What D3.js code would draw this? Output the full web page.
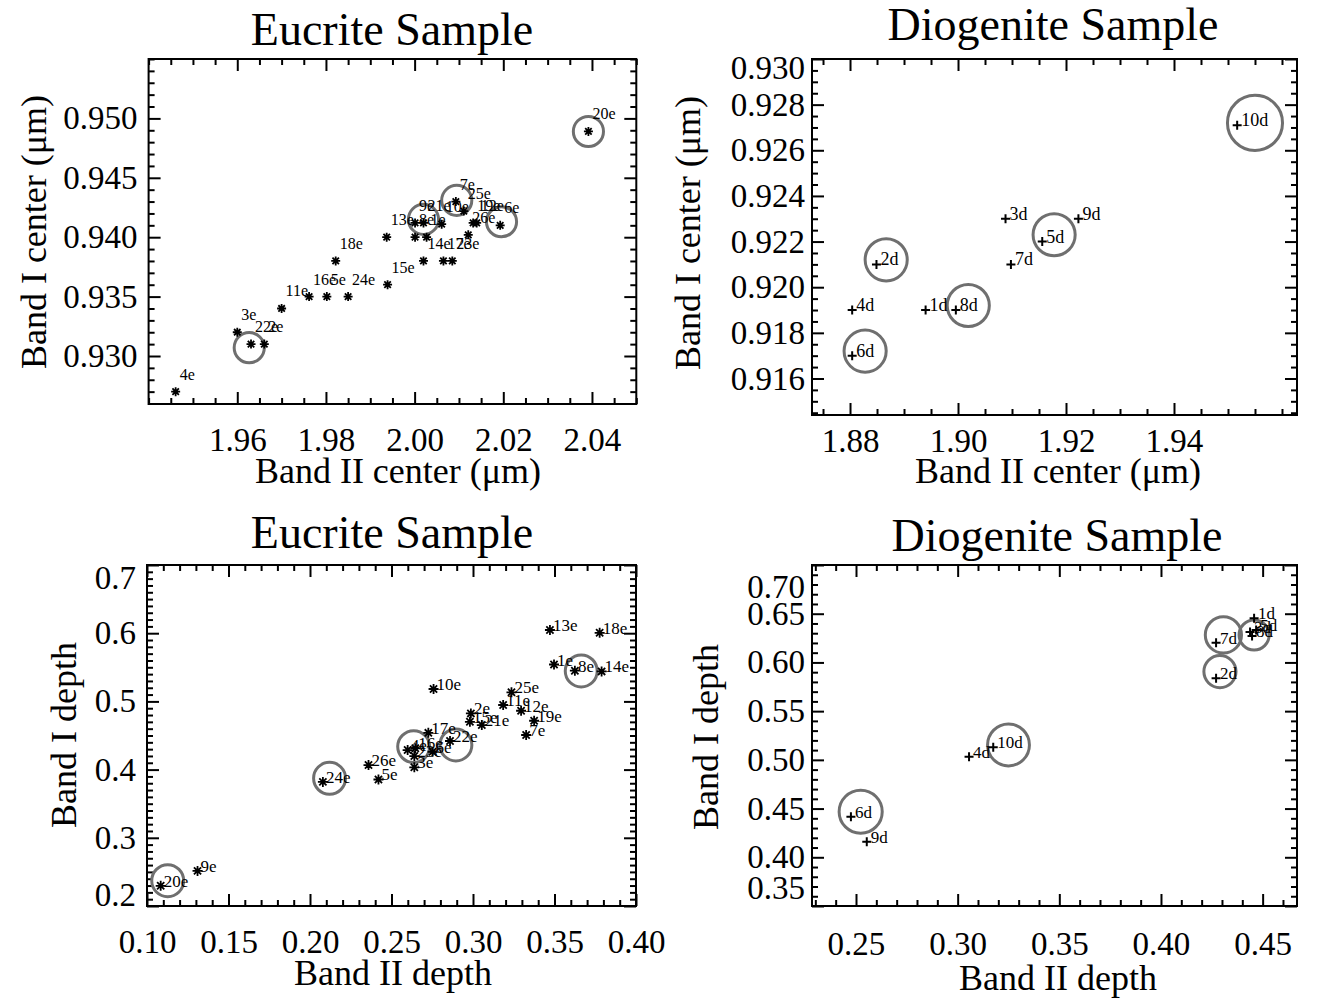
<!DOCTYPE html>
<html><head><meta charset="utf-8">
<script src="https://cdn.jsdelivr.net/npm/d3@7"></script>
<style>
body{margin:0;background:#fff}
svg{display:block}
text{font-family:"Liberation Serif","Times New Roman",serif;fill:#000}
</style>
</head><body><svg id="chart" width="1343" height="1003"></svg>
<script>
// ---------------- DATA ----------------
// Eucrite band centers (top-left)
const eucCenterLabels = ["4e","3e","22e","2e","11e","16e","5e","24e","18e","15e","13e","8e","1e","9e","21e","10e","7e","25e","19e","12e","6e","26e","14e","17e","23e","20e"];
const eucBand2Center = [1.9461,1.9600,1.9631,1.9661,1.9700,1.9762,1.9802,1.9850,1.9822,1.9939,1.9937,2.0001,2.0027,2.0001,2.0020,2.0061,2.0093,2.0111,2.0132,2.0140,2.0193,2.0121,2.0020,2.0065,2.0085,2.0392];
const eucBand1Center = [0.9270,0.9320,0.9310,0.9310,0.9340,0.9350,0.9350,0.9350,0.9380,0.9360,0.9400,0.9400,0.9400,0.9412,0.9412,0.9411,0.9430,0.9422,0.9412,0.9412,0.9410,0.9402,0.9380,0.9380,0.9380,0.9489];
const eucCenterCircleB2 = [1.9627,2.0095,2.0020,2.0196,2.0392];
const eucCenterCircleB1 = [0.9307,0.9431,0.9415,0.9413,0.9489];
const eucCenterCircleR  = [0.0034,0.0034,0.0034,0.0034,0.0034];

// Diogenite band centers (top-right)
const dioCenterLabels = ["1d","2d","3d","4d","5d","6d","7d","8d","9d","10d"];
const dioBand2Center = [1.8940,1.8849,1.9088,1.8804,1.9156,1.8804,1.9098,1.8996,1.9223,1.9517];
const dioBand1Center = [0.919,0.921,0.923,0.919,0.922,0.917,0.921,0.919,0.923,0.9271];
const dioCenterCircleB2 = [1.8867,1.9178,1.8828,1.9019,1.9550];
const dioCenterCircleB1 = [0.9212,0.9223,0.9172,0.9192,0.9272];
const dioCenterCircleR  = [0.0039,0.0039,0.0039,0.0039,0.0051];

// Eucrite band depths (bottom-left)
const eucDepthLabels = ["13e","18e","1e","8e","14e","10e","25e","11e","12e","19e","7e","2e","15e","21e","17e","22e","4e","16e","23e","6e","3e","26e","5e","24e","20e","9e"];
const eucBand2Depth = [0.3472,0.3777,0.3497,0.3625,0.3789,0.2758,0.3236,0.3185,0.3295,0.3375,0.3326,0.2987,0.2981,0.3054,0.2726,0.2859,0.2599,0.2646,0.2640,0.2752,0.2640,0.2359,0.2420,0.2079,0.1084,0.1310];
const eucBand1Depth = [0.6047,0.6006,0.5541,0.5450,0.5440,0.5182,0.5133,0.4947,0.4863,0.4716,0.4507,0.4824,0.4701,0.4653,0.4539,0.4419,0.4287,0.4312,0.4199,0.4262,0.4034,0.4067,0.3855,0.3820,0.2296,0.2515];
const eucDepthCircleB2 = [0.3664,0.2895,0.2636,0.2120,0.1127];
const eucDepthCircleB1 = [0.5447,0.4361,0.4337,0.3872,0.2371];
const eucDepthCircleR  = [0.0098,0.0098,0.0098,0.0098,0.0098];

// Diogenite band depths (bottom-right)
const dioDepthLabels = ["1d","3d","5d","8d","7d","2d","4d","10d","6d","9d"];
const dioBand2Depth = [0.4458,0.4438,0.4468,0.4448,0.4271,0.4271,0.3056,0.3175,0.2475,0.2553];
const dioBand1Depth = [0.6454,0.6313,0.6334,0.6272,0.6203,0.5838,0.5033,0.5129,0.4417,0.4160];
const dioDepthCircleB2 = [0.4307,0.4458,0.4290,0.3250,0.2523];
const dioDepthCircleB1 = [0.6282,0.6282,0.5906,0.5153,0.4468];
const dioDepthCircleR  = [0.0089,0.0074,0.0079,0.0103,0.0106];

// Tick labels
const p1XTicks = ["1.96","1.98","2.00","2.02","2.04"];
const p1YTicks = ["0.930","0.935","0.940","0.945","0.950"];
const p2XTicks = ["1.88","1.90","1.92","1.94"];
const p2YTicks = ["0.916","0.918","0.920","0.922","0.924","0.926","0.928","0.930"];
const p3XTicks = ["0.10","0.15","0.20","0.25","0.30","0.35","0.40"];
const p3YTicks = ["0.2","0.3","0.4","0.5","0.6","0.7"];
const p4XTicks = ["0.25","0.30","0.35","0.40","0.45"];
const p4YTicks = ["0.35","0.40","0.45","0.50","0.55","0.60","0.65","0.70"];

// ---------------- DRAWING ----------------
const svg = d3.select('#chart');
const FONT = '"Liberation Serif","Times New Roman",serif';

const asterisk = r => { const d = r*0.72; return `M${-r},0H${r}M0,${-r}V${r}M${-d},${-d}L${d},${d}M${-d},${d}L${d},${-d}`; };
const plus = r => `M${-r},0H${r}M0,${-r}V${r}`;

function drawPanel(c) {
  const b = c.box;
  const x = d3.scaleLinear().domain(c.xDomain).range([b.x0, b.x1]);
  const y = d3.scaleLinear().domain(c.yDomain).range([b.y1, b.y0]);
  const g = svg.append('g');
  const xMaj = c.xTicks.map(Number), yMaj = c.yTicks.map(Number);
  const minor = (dom, step, maj) => d3.range(Math.ceil(dom[0]/step - 1e-6), Math.floor(dom[1]/step + 1e-6) + 1)
      .map(k => +(k*step).toFixed(6)).filter(v => !maj.some(m => Math.abs(m - v) < step/10));
  const xMin = minor(c.xDomain, c.xMinor, xMaj), yMin = minor(c.yDomain, c.yMinor, yMaj);
  const inX = v => v >= c.xDomain[0] - 1e-9 && v <= c.xDomain[1] + 1e-9;
  const inY = v => v >= c.yDomain[0] - 1e-9 && v <= c.yDomain[1] + 1e-9;
  const style = s => {
    s.select('.domain').remove();
    s.selectAll('line').attr('stroke','#000').attr('stroke-width',2);
    s.attr('font-family',FONT).attr('font-size',c.tickFont);
  };
  const dropOut = (s, test) => s.selectAll('.tick').filter(d => !test(d)).select('line').remove();

  // minor ticks on all sides (inward)
  g.append('g').attr('transform',`translate(0,${b.y1})`).call(d3.axisBottom(x).tickValues(xMin).tickSize(-6).tickFormat('')).call(style);
  g.append('g').attr('transform',`translate(0,${b.y0})`).call(d3.axisTop(x).tickValues(xMin).tickSize(-6).tickFormat('')).call(style);
  g.append('g').attr('transform',`translate(${b.x0},0)`).call(d3.axisLeft(y).tickValues(yMin).tickSize(-6).tickFormat('')).call(style);
  g.append('g').attr('transform',`translate(${b.x1},0)`).call(d3.axisRight(y).tickValues(yMin).tickSize(-6).tickFormat('')).call(style);
  // major ticks with labels
  const xa = g.append('g').attr('transform',`translate(0,${b.y1})`)
    .call(d3.axisBottom(x).tickValues(xMaj).tickSize(-12).tickPadding(c.xPad).tickFormat((d,i)=>c.xTicks[i])).call(style);
  const xt = g.append('g').attr('transform',`translate(0,${b.y0})`).call(d3.axisTop(x).tickValues(xMaj).tickSize(-12).tickFormat('')).call(style);
  const ya = g.append('g').attr('transform',`translate(${b.x0},0)`)
    .call(d3.axisLeft(y).tickValues(yMaj).tickSize(-12).tickPadding(c.yPad).tickFormat((d,i)=>c.yTicks[i])).call(style);
  const yr = g.append('g').attr('transform',`translate(${b.x1},0)`).call(d3.axisRight(y).tickValues(yMaj).tickSize(-12).tickFormat('')).call(style);
  dropOut(xa, inX); dropOut(xt, inX); dropOut(ya, inY); dropOut(yr, inY);

  // y labels at the ends are kept inside the frame height
  ya.selectAll('.tick text').each(function(d){
    const py = y(d), t = d3.select(this);
    if (py < b.y0 + c.clamp[0]) t.attr('y', b.y0 + c.clamp[0] - py);
    else if (py > b.y1 - c.clamp[1]) t.attr('y', b.y1 - c.clamp[1] - py);
  });

  // frame
  g.append('rect').attr('x',b.x0).attr('y',b.y0).attr('width',b.x1-b.x0).attr('height',b.y1-b.y0)
    .attr('fill','none').attr('stroke','#000').attr('stroke-width',2);

  // circles
  const ci = d3.range(c.cx.length);
  g.append('g').selectAll('circle').data(ci).join('circle')
    .attr('cx', i => x(c.cx[i])).attr('cy', i => y(c.cy[i]))
    .attr('r', i => x(c.cx[i] + c.cr[i]) - x(c.cx[i]))
    .attr('fill','none').attr('stroke','#6f6f6f').attr('stroke-width',3);

  // markers
  const idx = d3.range(c.px.length);
  g.append('g').selectAll('path').data(idx).join('path')
    .attr('transform', i => `translate(${x(c.px[i])},${y(c.py[i])})`)
    .attr('d', c.marker).attr('stroke','#000').attr('stroke-width',c.markerW).attr('fill','none');
  // point labels
  g.append('g').selectAll('text').data(idx).join('text')
    .attr('x', i => x(c.px[i]) + c.lab[0]).attr('y', i => y(c.py[i]) + c.lab[1])
    .attr('font-size', c.labFont).text(i => c.labels[i]);

  // titles
  g.append('text').attr('x',c.title[0]).attr('y',c.title[1]).attr('text-anchor','middle').attr('font-size',46).text(c.titleText);
  g.append('text').attr('x',c.xt[0]).attr('y',c.xt[1]).attr('text-anchor','middle').attr('font-size',36).text(c.xTitle);
  g.append('text').attr('transform',`translate(${c.yt[0]},${c.yt[1]}) rotate(-90)`).attr('text-anchor','middle').attr('font-size',36).text(c.yTitle);
}

drawPanel({
  box:{x0:148.6,x1:636.3,y0:59,y1:404}, xDomain:[1.94,2.05], yDomain:[0.92596,0.9550],
  xTicks:p1XTicks, yTicks:p1YTicks, xMinor:0.005, yMinor:0.001, tickFont:33, xPad:24, yPad:11, clamp:[12,12],
  px:eucBand2Center, py:eucBand1Center, labels:eucCenterLabels, marker:asterisk(4.5), markerW:1.8,
  lab:[4,-12], labFont:16, cx:eucCenterCircleB2, cy:eucCenterCircleB1, cr:eucCenterCircleR,
  title:[392,45], titleText:'Eucrite Sample', xt:[398,483], xTitle:'Band II center (\u03bcm)',
  yt:[46,232], yTitle:'Band I center (\u03bcm)'
});
drawPanel({
  box:{x0:812,x1:1297,y0:59,y1:415}, xDomain:[1.87296,1.96278], yDomain:[0.91440,0.93000],
  xTicks:p2XTicks, yTicks:p2YTicks, xMinor:0.005, yMinor:0.0005, tickFont:33, xPad:14, yPad:7, clamp:[9,12],
  px:dioBand2Center, py:dioBand1Center, labels:dioCenterLabels, marker:plus(4.5), markerW:2,
  lab:[4,1], labFont:18, cx:dioCenterCircleB2, cy:dioCenterCircleB1, cr:dioCenterCircleR,
  title:[1053,40], titleText:'Diogenite Sample', xt:[1058,483], xTitle:'Band II center (\u03bcm)',
  yt:[700,233], yTitle:'Band I center (\u03bcm)'
});
drawPanel({
  box:{x0:147,x1:636,y0:565,y1:906}, xDomain:[0.10,0.40], yDomain:[0.2,0.7],
  xTicks:p3XTicks, yTicks:p3YTicks, xMinor:0.01, yMinor:0.01, tickFont:33, xPad:24, yPad:11, clamp:[13,11],
  px:eucBand2Depth, py:eucBand1Depth, labels:eucDepthLabels, marker:asterisk(5), markerW:1.8,
  lab:[3,1], labFont:17, cx:eucDepthCircleB2, cy:eucDepthCircleB1, cr:eucDepthCircleR,
  title:[392,548], titleText:'Eucrite Sample', xt:[393,985], xTitle:'Band II depth',
  yt:[76,735], yTitle:'Band I depth'
});
drawPanel({
  box:{x0:812,x1:1297,y0:565,y1:906}, xDomain:[0.22836,0.4669], yDomain:[0.35,0.70],
  xTicks:p4XTicks, yTicks:p4YTicks, xMinor:0.01, yMinor:0.01, tickFont:33, xPad:26, yPad:7, clamp:[22,18],
  px:dioBand2Depth, py:dioBand1Depth, labels:dioDepthLabels, marker:plus(4.5), markerW:2,
  lab:[4,1], labFont:17, cx:dioDepthCircleB2, cy:dioDepthCircleB1, cr:dioDepthCircleR,
  title:[1057,551], titleText:'Diogenite Sample', xt:[1058,990], xTitle:'Band II depth',
  yt:[718,737], yTitle:'Band I depth'
});
</script></body></html>
